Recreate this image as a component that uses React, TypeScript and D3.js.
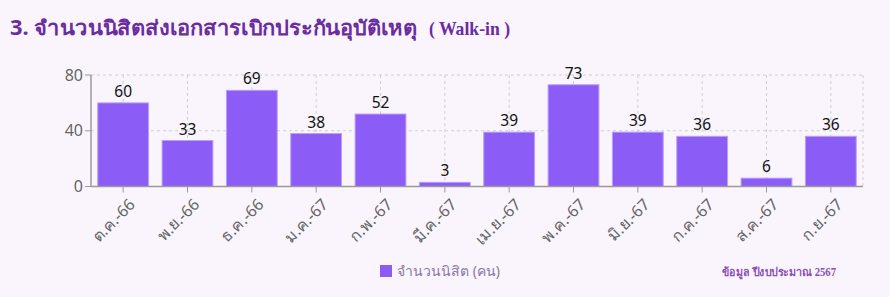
import React from "react";
import * as d3 from "d3";

const categories = ["ต.ค.-66", "พ.ย.-66", "ธ.ค.-66", "ม.ค.-67", "ก.พ.-67", "มี.ค.-67", "เม.ย.-67", "พ.ค.-67", "มิ.ย.-67", "ก.ค.-67", "ส.ค.-67", "ก.ย.-67"];
const values = [60, 33, 69, 38, 52, 3, 39, 73, 39, 36, 6, 36];
const yTicks = [0, 40, 80];
const seriesName = "จำนวนนิสิต (คน)";
const title = "3. จำนวนนิสิตส่งเอกสารเบิกประกันอุบัติเหตุ";
const titleSuffix = "( Walk-in )";
const footnote = "ข้อมูล ปีงบประมาณ 2567";

const W = 890, H = 297;
const left = 91, right = 863, top = 75, bottom = 186.5;

export default function App() {
  React.useEffect(() => {
    document.body.style.margin = "0";
  }, []);
  const x = d3.scaleBand<string>().domain(categories).range([left, right]).paddingInner(0.21).paddingOuter(0.105);
  const y = d3.scaleLinear().domain([0, 80]).range([bottom, top]);
  const sans = "'Noto Sans', 'Open Sans', sans-serif";
  const axisColor = "#9a9a9a";
  const tickText = "#666";
  return (
    <svg width={W} height={H} style={{ display: "block", background: "#faf5fd" }}>
      <rect x={0} y={0} width={W} height={H} fill="#faf5fd" />
      <text x={10} y={35} fontFamily={sans} fontWeight={700} fontSize={20.5} fill="#6a2c9e" textLength={407} lengthAdjust="spacingAndGlyphs">
        {title}
      </text>
      <text x={429} y={35} fontFamily="'Liberation Serif', 'Times New Roman', serif" fontWeight={700} fontSize={19} fill="#6a2c9e" textLength={81} lengthAdjust="spacingAndGlyphs">
        {titleSuffix}
      </text>
      {/* grid */}
      <g stroke="#cfcfcf" strokeDasharray="3 3" strokeWidth={1}>
        {yTicks.filter(t => t > 0).map(t => (
          <line key={"h" + t} x1={left} x2={right} y1={y(t)} y2={y(t)} />
        ))}
        {categories.map(c => (
          <line key={"v" + c} x1={x(c)! + x.bandwidth() / 2} x2={x(c)! + x.bandwidth() / 2} y1={top} y2={bottom} />
        ))}
        <line x1={right} x2={right} y1={top} y2={bottom} />
      </g>
      {/* bars */}
      {categories.map((c, i) => (
        <rect key={c} x={x(c)} y={y(values[i])} width={x.bandwidth()} height={bottom - y(values[i])} fill="#8b5cf6" stroke="#b9a1f8" strokeWidth={1} />
      ))}
      {/* value labels */}
      {categories.map((c, i) => (
        <text key={"l" + c} x={x(c)! + x.bandwidth() / 2} y={y(values[i]) - 6} textAnchor="middle" fontFamily={sans} fontSize={15.5} fill="#111">
          {values[i]}
        </text>
      ))}
      {/* axes */}
      <line x1={left} x2={left} y1={top} y2={bottom} stroke={axisColor} strokeWidth={1.5} />
      <line x1={left} x2={right} y1={bottom} y2={bottom} stroke={axisColor} strokeWidth={1.5} />
      {yTicks.map(t => (
        <g key={"yt" + t}>
          <line x1={left - 6} x2={left} y1={y(t)} y2={y(t)} stroke={axisColor} />
          <text x={left - 8} y={y(t)} dy="0.35em" textAnchor="end" fontFamily={sans} fontSize={16} fill={tickText}>{t}</text>
        </g>
      ))}
      {categories.map(c => {
        const cx = x(c)! + x.bandwidth() / 2;
        return (
          <g key={"xt" + c}>
            <line x1={cx} x2={cx} y1={bottom} y2={bottom + 6} stroke={axisColor} />
            <text transform={`translate(${cx + 5},${bottom + 11}) rotate(-45)`} textAnchor="end" dy="0.7em" fontFamily={sans} fontSize={16} fill={tickText}>{c}</text>
          </g>
        );
      })}
      {/* legend */}
      <rect x={380} y={265} width={12} height={12} fill="#8b5cf6" />
      <text x={397} y={276} fontFamily={sans} fontSize={14} fill="#8a76a6">{seriesName}</text>
      <text x={722} y={276} fontFamily="'Liberation Serif', serif" fontWeight={700} fontSize={11.5} fill="#8b4fb8" textLength={114} lengthAdjust="spacingAndGlyphs">{footnote}</text>
    </svg>
  );
}
